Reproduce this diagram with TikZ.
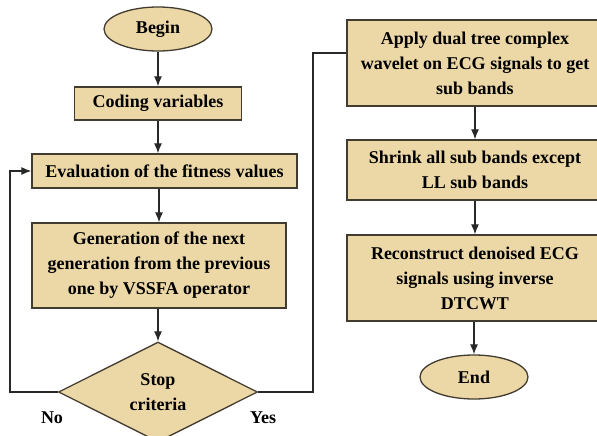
\documentclass[tikz,border=0pt]{standalone}
\usepackage{fontspec}
\setmainfont{Liberation Serif}
\usetikzlibrary{shapes.geometric,arrows.meta}
\definecolor{parch}{RGB}{236,216,166}
\definecolor{edge}{RGB}{66,60,48}
\definecolor{wire}{RGB}{40,40,40}
\begin{document}
\begin{tikzpicture}[x=1pt, y=-1pt, font=\bfseries\fontsize{18}{25}\selectfont, >={Latex[length=10pt,width=8pt]}]
                \useasboundingbox (0,0) rectangle (597,436);

                \tikzset{
                    stepbox/.style = {draw=edge, line width=1.3pt, fill=parch, inner sep=0pt, align=center},
                    terminal/.style = {ellipse, draw=edge, line width=1.3pt, fill=parch, inner sep=0pt,
                                       minimum width=108pt, minimum height=44pt},
                    decision/.style = {diamond, draw=edge, line width=1.3pt, fill=parch, inner sep=0pt,
                                       align=center, minimum width=199pt, minimum height=100pt},
                    flow/.style = {->, wire, line width=1.2pt},
                    link/.style = {wire, line width=1.2pt},
                }

                % left column
                \node[terminal] (begin) at (158,29) {Begin};
                \node[stepbox, minimum width=167pt, minimum height=33pt] (coding) at (158,103.5) {Coding variables};
                \node[stepbox, minimum width=265pt, minimum height=34pt] (eval) at (164.5,171) {Evaluation of the fitness values};
                \node[stepbox, minimum width=254pt, minimum height=85pt] (gen) at (159,265.5)
                {Generation of the next\\ generation from the previous\\ one by VSSFA operator};
                \node[decision] (stop) at (158,392) {Stop\\ criteria};
                \node (no) at (52,418) {No};
                \node (yes) at (263,418) {Yes};

                % right column
                \node[stepbox, minimum width=256pt, minimum height=86pt] (apply) at (475,63)
                {Apply dual tree complex\\ wavelet on ECG signals to get\\ sub bands};
                \node[stepbox, minimum width=256pt, minimum height=60pt] (shrink) at (475,170)
                {Shrink all sub bands except\\ LL sub bands};
                \node[stepbox, minimum width=256pt, minimum height=86pt] (recon) at (475,278)
                {Reconstruct denoised ECG\\ signals using inverse\\ DTCWT};
                \node[terminal] (end) at (474,377) {End};

                \coordinate (noturn) at (10,392);
                \coordinate (yesturn) at (313,392);

                \draw[flow] (begin.south) -- (coding.north);
                \draw[flow] (coding.south) -- (coding |- eval.north);
                \draw[flow] (eval.south -| gen) -- (gen.north);
                \draw[flow] (gen.south -| stop) -- (stop.north);
                \draw[flow] (stop.west) -- (noturn) |- (eval.west);
                \draw[link] (stop.east) -- (yesturn) |- (apply.west |- 0,53);
                \draw[flow] (apply.south) -- (shrink.north);
                \draw[flow] (shrink.south) -- (recon.north);
                \draw[flow] (recon.south -| end) -- (end.north);

            \end{tikzpicture}
\end{document}
